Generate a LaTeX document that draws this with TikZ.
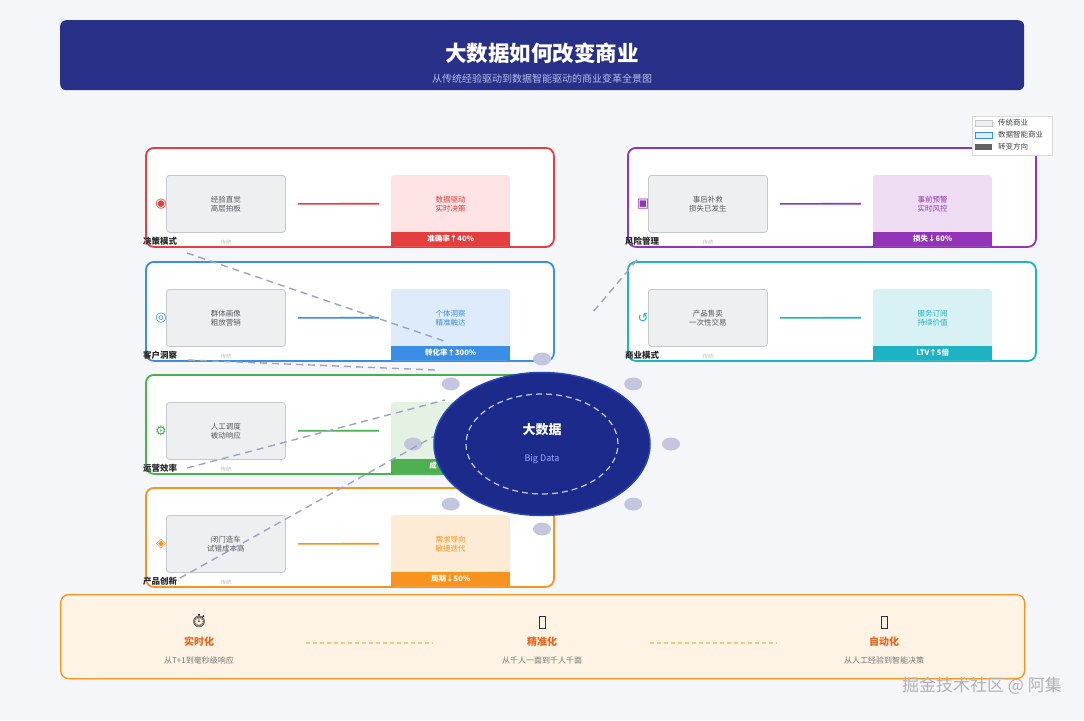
\documentclass[tikz,border=0pt]{standalone}
\usepackage{fontspec}
\setmainfont{Noto Sans CJK SC}
\newfontfamily\symfont{DejaVu Sans}
\newfontfamily\emojifont{Noto Emoji}
\usetikzlibrary{shapes.geometric}
\definecolor{bgc}{HTML}{F5F6FA}
\definecolor{navy}{HTML}{28308A}
\definecolor{subc}{HTML}{B8BEE6}
\definecolor{Ac}{HTML}{E53E3E}\definecolor{Al}{HTML}{FDE3E3}
\definecolor{Bc}{HTML}{3A8EE6}\definecolor{Bl}{HTML}{DDEBFA}
\definecolor{Cc}{HTML}{4CAF50}\definecolor{Cl}{HTML}{E4F2E4}
\definecolor{Dc}{HTML}{F7931E}\definecolor{Dl}{HTML}{FDEBD6}
\definecolor{Ec}{HTML}{9333B8}\definecolor{El}{HTML}{EEDDF3}
\definecolor{Fc}{HTML}{1EB3C4}\definecolor{Fl}{HTML}{D8F1F4}
\definecolor{tradfill}{HTML}{EDEFF1}
\definecolor{tradborder}{HTML}{C5C9CE}
\definecolor{tradtext}{HTML}{555A60}
\definecolor{dashc}{HTML}{9FA2C4}
\definecolor{satc}{HTML}{C4C6E0}
\definecolor{corefill}{HTML}{1C2A8C}
\definecolor{coreborder}{HTML}{2744B8}
\definecolor{botfill}{HTML}{FFF3E5}
\definecolor{bottitle}{HTML}{E8641A}
\definecolor{botdesc}{HTML}{777777}
\definecolor{botdash}{HTML}{F9C870}
\tikzset{
  cardbox/.style={line width=1.8pt, rounded corners=8pt, fill=white, minimum width=408pt, minimum height=99pt, inner sep=0pt},
  tradbox/.style={draw=tradborder, fill=tradfill, rounded corners=3pt, line width=0.8pt, minimum width=119pt, minimum height=57pt, inner sep=0pt, align=center, text=tradtext, font=\fontsize{7.5}{9}\selectfont},
  newtext/.style={minimum width=119pt, minimum height=57pt, inner sep=0pt, align=center, font=\fontsize{7.5}{9}\selectfont},
  barbox/.style={minimum width=119pt, minimum height=14pt, inner sep=0pt, text=white, font=\fontsize{7.5}{9}\selectfont\bfseries},
  iconstyle/.style={inner sep=0pt, font=\symfont\fontsize{13}{13}\selectfont},
  cardlabel/.style={inner sep=0pt, text=black!85, font=\fontsize{8.5}{9}\selectfont\bfseries},
  tagstyle/.style={inner sep=0pt, text=black!25, font=\fontsize{5.5}{6}\selectfont},
  flowdash/.style={draw=dashc, line width=1.4pt, dash pattern=on 7pt off 5pt},
  sat/.style={ellipse, fill=satc, minimum width=18pt, minimum height=13pt, inner sep=0pt},
  legsw/.style={minimum width=17pt, minimum height=6pt, inner sep=0pt, anchor=west},
  legtx/.style={anchor=west, inner sep=0pt, font=\fontsize{7.5}{8}\selectfont, text=black!75},
  bottitlestyle/.style={inner sep=0pt, text=bottitle, font=\fontsize{10}{11}\selectfont\bfseries},
  botdescstyle/.style={inner sep=0pt, text=botdesc, font=\fontsize{8}{9}\selectfont},
}
\newcommand\bizcard[8]{%
\begin{scope}[shift={(#2,#3)}]
\node[cardbox, draw=#1c, anchor=north west] (#1card) at (0,0) {};
\node[tradbox, anchor=north west] (#1trad) at (21,28) {#5};
\fill[#1l, rounded corners=3pt] (246,28) rectangle (365,99);
\node[newtext, text=#1c, anchor=north west] (#1new) at (246,28) {#6};
\node[barbox, fill=#1c, anchor=south west] (#1bar) at (246,99) {#7};
\draw[line width=1.6pt, #1c] ([xshift=12pt]#1trad.east) -- ([xshift=-12pt]#1new.west);
\node[iconstyle, text=#1c] (#1icon) at (16,57) {#4};
\node[cardlabel, anchor=west] (#1lab) at (-2,94) {#8};
\node[tagstyle] (#1tag) at (81,95) {传统};
\end{scope}}
\begin{document}
\begin{tikzpicture}[x=1pt,y=-1pt]
\fill[bgc] (0,0) rectangle (1084,720);
\useasboundingbox (0,0) rectangle (1084,720);
% title
\node[fill=navy, rounded corners=6pt, minimum width=964pt, minimum height=70pt, anchor=north west, inner sep=0pt] (titlebar) at (60,20) {};
\node[text=white, font=\fontsize{21.5}{22}\selectfont\bfseries, inner sep=0pt] (title) at (542,53) {大数据如何改变商业};
\node[text=subc, font=\fontsize{10}{11}\selectfont, inner sep=0pt] (subtitle) at (542,79) {从传统经验驱动到数据智能驱动的商业变革全景图};
% cards
\bizcard{A}{145}{147}{◉}{经验直觉\\高层拍板}{数据驱动\\实时决策}{准确率↑40\%}{决策模式}
\bizcard{B}{145}{261}{◎}{群体画像\\粗放营销}{个体洞察\\精准触达}{转化率↑300\%}{客户洞察}
\bizcard{C}{145}{374}{⚙}{人工调度\\被动响应}{}{}{运营效率}
\node[text=white, inner sep=0pt, font=\fontsize{7.5}{9}\selectfont\bfseries] (Cbartxt) at (433,466) {成};
\bizcard{D}{145}{487}{◈}{闭门造车\\试错成本高}{需求导向\\敏捷迭代}{周期↓50\%}{产品创新}
\bizcard{E}{627}{147}{▣}{事后补救\\损失已发生}{事前预警\\实时风控}{损失↓60\%}{风险管理}
\bizcard{F}{627}{261}{↺}{产品售卖\\一次性交易}{服务订阅\\持续价值}{LTV↑5倍}{商业模式}
% satellites
\foreach \i/\a in {1/0,2/45,3/90,4/135,5/180,6/225,7/270,8/315}{
  \node[sat] (sat\i) at ({542+129*cos(\a)},{444+85*sin(\a)}) {};
}
% dashed flows
\coordinate (d1s) at (187,253); \coordinate (d1e) at (447,342);
\coordinate (d2s) at (188,360); \coordinate (d2e) at (435,370);
\coordinate (d3s) at (187,468); \coordinate (d3e) at (445,400);
\coordinate (d4s) at (180,578); \coordinate (d4e) at (440,433);
\coordinate (d5s) at (637,260); \coordinate (d5e) at (593,312);
\draw[flowdash] (d1s) -- (d1e);
\draw[flowdash] (d2s) -- (d2e);
\draw[flowdash] (d3s) -- (d3e);
\draw[flowdash] (d4s) -- (d4e);
\draw[flowdash] (d5s) -- (d5e);
% core
\node[ellipse, fill=corefill, draw=coreborder, line width=1.5pt, minimum width=216pt, minimum height=143pt, inner sep=0pt] (core) at (542,444) {};
\node[ellipse, draw=white!75!corefill, line width=1.2pt, dash pattern=on 6pt off 4pt, minimum width=152pt, minimum height=100pt, inner sep=0pt] (coreinner) at (542,444) {};
\node[text=white, font=\fontsize{13}{14}\selectfont\bfseries, inner sep=0pt] (coretitle) at (542,430) {大数据};
\node[text=blue!35!white, font=\fontsize{9}{10}\selectfont, inner sep=0pt] (coresub) at (542,459) {Big Data};
% legend
\node[fill=white, draw=black!15, line width=0.6pt, minimum width=80pt, minimum height=39pt, anchor=north west, inner sep=0pt] (legend) at (972,116) {};
\node[legsw, fill=tradfill, draw=tradborder] (lg1) at (975,123) {};
\node[legtx] (lt1) at (998,123) {传统商业};
\node[legsw, fill=Bl, draw=Bc, line width=0.8pt] (lg2) at (975,135) {};
\node[legtx] (lt2) at (998,135) {数据智能商业};
\node[legsw, fill=black!62] (lg3) at (975,147) {};
\node[legtx] (lt3) at (998,147) {转变方向};
% bottom bar
\node[fill=botfill, draw=Dc, line width=1.3pt, rounded corners=8pt, minimum width=964pt, minimum height=84pt, anchor=north west, inner sep=0pt] (bottom) at (60,594) {};
\node[inner sep=0pt, font=\emojifont\fontsize{13}{13}\selectfont] (bi1) at (199,621) {⏱};
\node[draw=black!80, line width=0.7pt, minimum width=6pt, minimum height=12pt, inner sep=0pt] (bi2) at (542,622) {};
\node[draw=black!80, line width=0.7pt, minimum width=6pt, minimum height=12pt, inner sep=0pt] (bi3) at (884,622) {};
\node[bottitlestyle] (bt1) at (199,642) {实时化};
\node[bottitlestyle] (bt2) at (542,642) {精准化};
\node[bottitlestyle] (bt3) at (884,642) {自动化};
\node[botdescstyle] (bd1) at (199,660) {从T+1到毫秒级响应};
\node[botdescstyle] (bd2) at (542,660) {从千人一面到千人千面};
\node[botdescstyle] (bd3) at (884,660) {从人工经验到智能决策};
\coordinate (bl1s) at (306,643); \coordinate (bl1e) at (433,643);
\coordinate (bl2s) at (650,643); \coordinate (bl2e) at (777,643);
\draw[botdash, line width=1.2pt, dash pattern=on 4pt off 3pt] (bl1s) -- (bl1e);
\draw[botdash, line width=1.2pt, dash pattern=on 4pt off 3pt] (bl2s) -- (bl2e);
% watermark
\node[text=black!30, font=\fontsize{17}{18}\selectfont, inner sep=0pt, anchor=east] (wm) at (1062,686) {掘金技术社区 @ 阿集};
\end{tikzpicture}
\end{document}
